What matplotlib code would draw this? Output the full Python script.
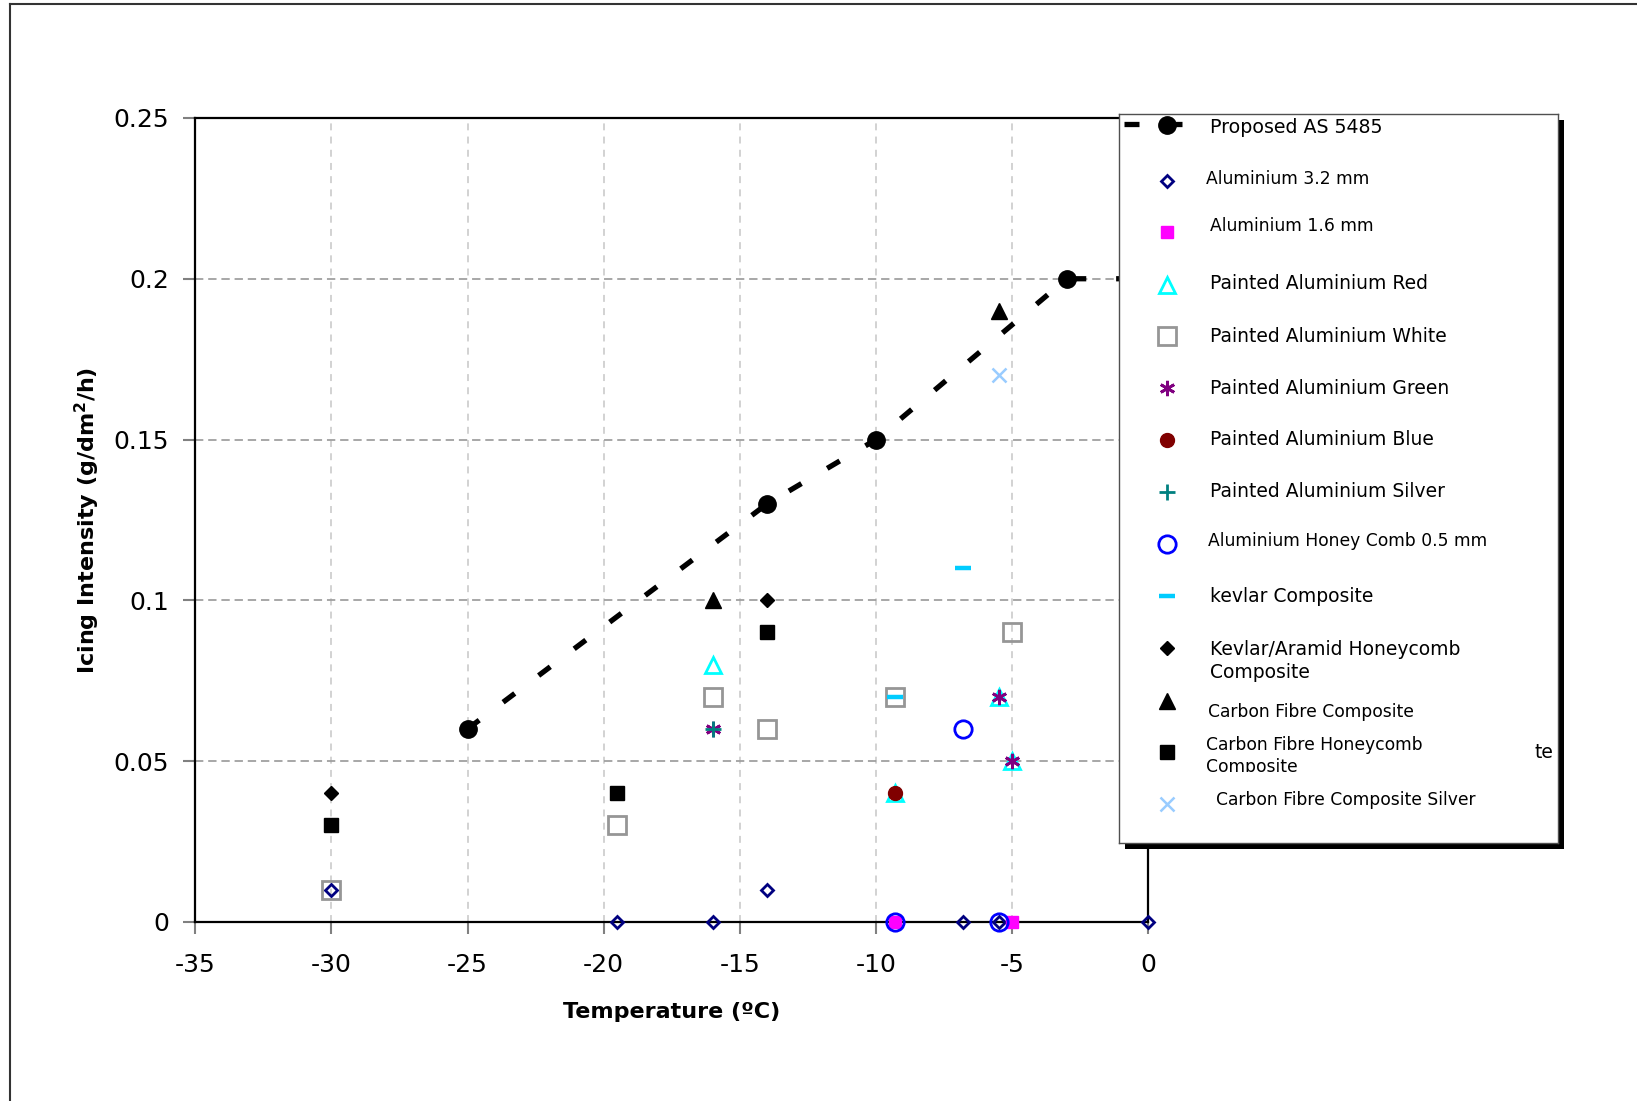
import matplotlib
matplotlib.use('Agg')
import matplotlib.pyplot as plt
from matplotlib.lines import Line2D
from matplotlib.patches import Rectangle
from matplotlib.ticker import FuncFormatter

# ---- data ----
temperature_ticks = [-35, -30, -25, -20, -15, -10, -5, 0]
intensity_ticks = [0, 0.05, 0.1, 0.15, 0.2, 0.25]

proposed_t = [-25, -14, -10, -3, 0]
proposed_i = [0.06, 0.13, 0.15, 0.2, 0.2]

al32_t = [-30, -19.5, -16, -14, -6.8, -5.5, 0]
al32_i = [0.01, 0, 0, 0.01, 0, 0, 0]

al16_t = [-9.3, -5]
al16_i = [0, 0]

red_t = [-16, -9.3, -5.5, -5]
red_i = [0.08, 0.04, 0.07, 0.05]

white_t = [-30, -19.5, -16, -14, -9.3, -5]
white_i = [0.01, 0.03, 0.07, 0.06, 0.07, 0.09]

green_t = [-16, -5.5, -5]
green_i = [0.06, 0.07, 0.05]

blue_t = [-9.3]
blue_i = [0.04]

silver_t = [-16]
silver_i = [0.06]

honeycomb_t = [-6.8, -9.3, -5.5]
honeycomb_i = [0.06, 0, 0]

kevlar_t = [-6.8, -9.3]
kevlar_i = [0.11, 0.07]

aramid_t = [-30, -14]
aramid_i = [0.04, 0.1]

cf_t = [-16, -5.5]
cf_i = [0.1, 0.19]

cf_honey_t = [-30, -19.5, -14]
cf_honey_i = [0.03, 0.04, 0.09]

cf_silver_t = [-5.5]
cf_silver_i = [0.17]

labels = ['Proposed AS 5485', 'Aluminium 3.2 mm', 'Aluminium 1.6 mm',
          'Painted Aluminium Red', 'Painted Aluminium White',
          'Painted Aluminium Green', 'Painted Aluminium Blue',
          'Painted Aluminium Silver', 'Aluminium Honey Comb 0.5 mm',
          'kevlar Composite', 'Kevlar/Aramid Honeycomb\nComposite',
          'Carbon Fibre Composite', 'Carbon Fibre Honeycomb\nComposite',
          'Carbon Fibre Composite Silver']

# ---- styles ----
open_m = dict(mfc='none', mew=2)
styles = [
    dict(marker='o', ms=12.5, color='black'),
    dict(marker='D', ms=6.5, mec='#000080', **open_m),
    dict(marker='s', ms=9, mfc='#FF00FF', mec='#FF00FF'),
    dict(marker='^', ms=12, mec='#00FFFF', **open_m),
    dict(marker='s', ms=12.5, mec='#969696', **open_m),
    dict(marker=(6, 2, 0), ms=11, mec='#800080', mew=2),
    dict(marker='o', ms=10, mfc='#800000', mec='#800000'),
    dict(marker='+', ms=11, mec='#008080', mew=2),
    dict(marker='o', ms=12.5, mec='#0000FF', **open_m),
    dict(marker='_', ms=11, mec='#00CCFF', mew=3.2),
    dict(marker='D', ms=7.6, mfc='black', mec='black'),
    dict(marker='^', ms=11, mfc='black', mec='black'),
    dict(marker='s', ms=10.5, mfc='black', mec='black'),
    dict(marker='x', ms=10, mec='#99CCFF', mew=1.8),
]
series = [(proposed_t, proposed_i), (al32_t, al32_i), (al16_t, al16_i),
          (red_t, red_i), (white_t, white_i), (green_t, green_i),
          (blue_t, blue_i), (silver_t, silver_i), (honeycomb_t, honeycomb_i),
          (kevlar_t, kevlar_i), (aramid_t, aramid_i), (cf_t, cf_i),
          (cf_honey_t, cf_honey_i), (cf_silver_t, cf_silver_i)]

plt.rcParams['font.family'] = ['DejaVu Sans']
plt.rcParams['lines.scale_dashes'] = False
plt.rcParams['mathtext.default'] = 'regular'
plt.rcParams['axes.unicode_minus'] = False

W, H = 1568.0, 1054.6   # layout measured in the reference (shrunk px)

fig = plt.figure(figsize=(16.37, 11.01), dpi=100)
ax = fig.add_axes([187 / W, 1 - 883 / H, 913 / W, 770 / H], zorder=1)

# proposed line
ax.plot(proposed_t, proposed_i, color='black', lw=3.8, dashes=(10.5, 21.5),
        dash_capstyle='butt', zorder=3,
        marker='o', ms=12.5, mfc='black', mec='black')
for (xs, ys), st in zip(series[1:], styles[1:]):
    ax.plot(xs, ys, ls='none', clip_on=False, zorder=4, **st)

ax.set_xlim(-35, 0)
ax.set_ylim(0, 0.25)
ax.set_xticks(temperature_ticks)
ax.set_yticks(intensity_ticks)
ax.yaxis.set_major_formatter(FuncFormatter(lambda v, p: '%g' % v))
ax.tick_params(labelsize=18, colors='#808080', labelcolor='black', width=1.5, length=8.5)
ax.tick_params(axis='x', pad=14)
ax.tick_params(axis='y', pad=10.5)
ax.xaxis.grid(True, color='#cfcfcf', ls=(0, (5, 4.5)), lw=1.3)
ax.yaxis.grid(True, color='#a0a0a0', ls=(0, (6, 3.5)), lw=1.3)
ax.set_axisbelow(True)
for sp in ax.spines.values():
    sp.set_linewidth(1.6)
    sp.set_color('black')

ax.set_xlabel('Temperature (ºC)', fontsize=16, fontweight='bold', va='center')
ax.xaxis.set_label_coords(0.5, -0.112)
ax.set_ylabel('Icing Intensity (g/dm$^2$/h)', fontsize=16, fontweight='bold', va='center')
ax.yaxis.set_label_coords(-0.1133, 0.5)

# ---- legend box drawn by hand to match the reference layout ----
lx0, lx1, ly0, ly1 = 1072, 1492, 109, 807
shadow = Rectangle(((lx0 + 6) / W, 1 - (ly1 + 6) / H), (lx1 - lx0) / W, (ly1 - ly0) / H,
                   transform=fig.transFigure, facecolor='black', edgecolor='none', zorder=4)
fig.add_artist(shadow)
lax = fig.add_axes([lx0 / W, 1 - ly1 / H, (lx1 - lx0) / W, (ly1 - ly0) / H], zorder=5)
lax.set_xlim(lx0, lx1)
lax.set_ylim(ly1, ly0)
lax.set_xticks([])
lax.set_yticks([])
for sp in lax.spines.values():
    sp.set_linewidth(1.0)
    sp.set_color('#505050')

marker_y = [120, 173, 222, 273, 322, 372, 421, 471, 521, 571, 621, 671, 720, 770]
text_y = [122, 171, 216, 272, 322, 372, 421, 471, 518, 571, 633, 682, 724, 766]
text_x = [1159, 1155, 1159, 1159, 1159, 1159, 1159, 1159, 1157, 1159, 1159, 1157, 1155, 1165]
text_size = [13.7, 12.3, 12.3, 13.5, 13.5, 13.5, 13.5, 13.5, 12.3, 13.5, 13.5, 12.3, 12.3, 12.3]

lax.plot([1077, 1091], [119, 119], color='black', lw=3.8, solid_capstyle='butt')
lax.plot([1118, 1132], [119, 119], color='black', lw=3.8, solid_capstyle='butt')
for i, (lab, st) in enumerate(zip(labels, styles)):
    lax.plot([1118], [marker_y[i]], ls='none', **st)
    lax.text(text_x[i], text_y[i], lab, fontsize=text_size[i], va='center', ha='left',
             linespacing=1.3, zorder=2)
# second line of "Carbon Fibre Honeycomb Composite" is cut off in the original
lax.add_patch(Rectangle((1140, 739), 300, 12, facecolor='white', edgecolor='none', zorder=3))
lax.text(1470, 721, 'te', fontsize=13.5, va='center', ha='left')

# outer frame (left and top edges only visible)
fig.add_artist(Line2D([10 / 1637, 10 / 1637], [0, 1 - 4 / 1101], color='#333333', lw=1.5))
fig.add_artist(Line2D([10 / 1637, 1], [1 - 4 / 1101, 1 - 4 / 1101], color='#333333', lw=1.5))

fig.savefig('out.png', dpi=100)
